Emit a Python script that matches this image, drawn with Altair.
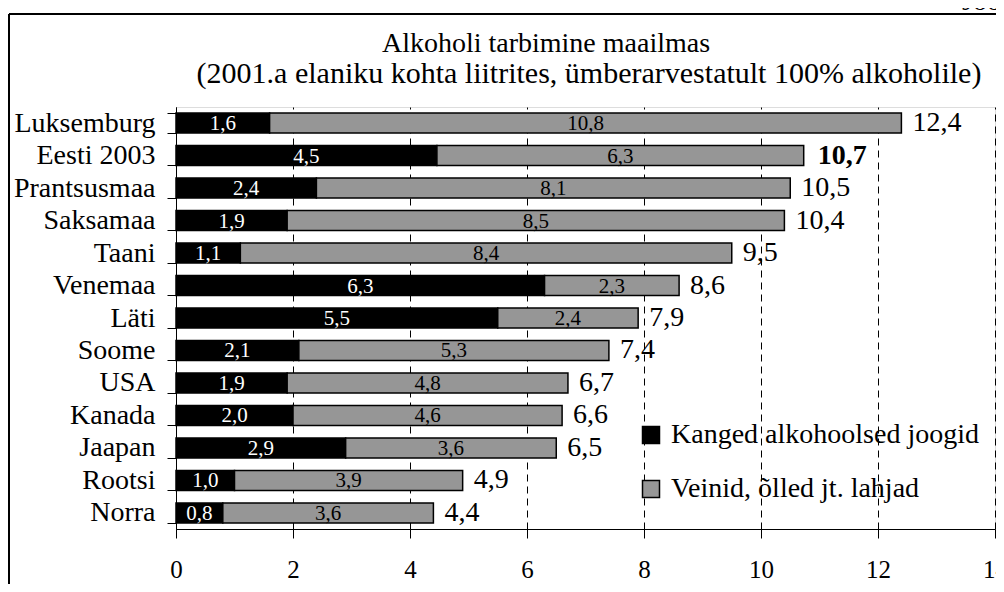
import altair as alt
import pandas as pd

countries = ["Luksemburg", "Eesti 2003", "Prantsusmaa", "Saksamaa", "Taani", "Venemaa",
             "Läti", "Soome", "USA", "Kanada", "Jaapan", "Rootsi", "Norra"]
strong = [1.6, 4.46, 2.4, 1.9, 1.1, 6.3, 5.5, 2.1, 1.9, 2.0, 2.9, 1.0, 0.8]
light = [10.8, 6.27, 8.1, 8.5, 8.4, 2.3, 2.4, 5.3, 4.8, 4.6, 3.6, 3.9, 3.6]
series = ["Kanged alkohoolsed joogid", "Veinid, õlled jt. lahjad"]
x_ticks = [0, 2, 4, 6, 8, 10, 12, 14]
title_lines = ["Alkoholi tarbimine maailmas",
               "(2001.a elaniku kohta liitrites, ümberarvestatult 100% alkoholile)"]
corner_text = "Joonis"
highlight = "Eesti 2003"

FONT = "Liberation Serif"


def fmt(v):
    return f"{v:.1f}".replace(".", ",")


rows = []
for c, s, l in zip(countries, strong, light):
    rows.append(dict(country=c, series=series[0], start=0.0, end=s, mid=s / 2, label=fmt(s)))
    rows.append(dict(country=c, series=series[1], start=s, end=s + l, mid=s + l / 2, label=fmt(l)))
seg = pd.DataFrame(rows)
tot = pd.DataFrame(dict(country=countries, total=[s + l for s, l in zip(strong, light)]))
tot["label"] = tot["total"].map(fmt)
one = pd.DataFrame({"k": [0]})

x_scale = alt.Scale(domain=[0, 14], nice=False, zero=True)
y_scale = alt.Scale(paddingInner=0.385, paddingOuter=0.185)

y_enc = alt.Y("country:N", sort=countries, title=None, scale=y_scale,
              axis=alt.Axis(tickBand="extent", tickSize=9, labelPadding=12,
                            labelFontSize=28, labelFont=FONT, labelColor="black",
                            domainColor="black", tickColor="black", labelLimit=400,
                            grid=False))

bars = alt.Chart(seg).mark_bar(stroke="black", strokeWidth=1.5).encode(
    x=alt.X("start:Q", scale=x_scale, title=None,
            axis=alt.Axis(values=x_ticks, format="d", grid=True, gridDash=[7, 5],
                          gridColor="black", gridOpacity=1, tickSize=9, labelPadding=19,
                          labelFontSize=25, labelFont=FONT, labelColor="black",
                          domainColor="black", tickColor="black", labelFlush=False,
                          labelOverlap=False)),
    x2="end:Q",
    y=y_enc,
    color=alt.Color("series:N", scale=alt.Scale(domain=series, range=["#000000", "#969696"]),
                    legend=alt.Legend(orient="none", legendX=461, legendY=314, title=None,
                                      symbolType="square", symbolSize=289,
                                      symbolStrokeColor="black", symbolStrokeWidth=1.5,
                                      labelFontSize=28, labelFont=FONT, labelColor="black",
                                      rowPadding=26, labelOffset=6, padding=0,
                                      labelLimit=500)),
)

strong_labels = alt.Chart(seg[seg["series"] == series[0]]).mark_text(
    color="white", fontSize=21, font=FONT, baseline="middle", dy=1
).encode(x=alt.X("mid:Q", scale=x_scale), y=alt.Y("country:N", sort=countries), text="label:N")

light_labels = alt.Chart(seg[seg["series"] == series[1]]).mark_text(
    color="black", fontSize=21, font=FONT, baseline="middle", dy=1
).encode(x=alt.X("mid:Q", scale=x_scale), y=alt.Y("country:N", sort=countries), text="label:N")

total_labels = alt.Chart(tot[tot["country"] != highlight]).mark_text(
    color="black", fontSize=28, font=FONT, baseline="middle", align="left", dx=11
).encode(x=alt.X("total:Q", scale=x_scale), y=alt.Y("country:N", sort=countries), text="label:N")

total_bold = alt.Chart(tot[tot["country"] == highlight]).mark_text(
    color="black", fontSize=28, font=FONT, baseline="middle", align="left", dx=14,
    fontWeight="bold"
).encode(x=alt.X("total:Q", scale=x_scale), y=alt.Y("country:N", sort=countries), text="label:N")

# decorative outer chart frame (left and top edges)
frame_left = alt.Chart(one).mark_rule(color="black", strokeWidth=2).encode(
    x=alt.value(-167), y=alt.value(-93), y2=alt.value(700))
frame_top = alt.Chart(one).mark_rule(color="black", strokeWidth=2).encode(
    x=alt.value(-167), x2=alt.value(1000), y=alt.value(-93))

title1 = alt.Chart(one).mark_text(fontSize=28, font=FONT, color="black", align="center",
                                  baseline="alphabetic").encode(
    x=alt.value(370), y=alt.value(-55), text=alt.value(title_lines[0]))
title2 = alt.Chart(one).mark_text(fontSize=30, font=FONT, color="black", align="center",
                                  baseline="alphabetic").encode(
    x=alt.value(413), y=alt.value(-24), text=alt.value(title_lines[1]))
corner = alt.Chart(one).mark_text(fontSize=28, font=FONT, color="black", align="left",
                                  baseline="alphabetic").encode(
    x=alt.value(786), y=alt.value(-97), text=alt.value(corner_text))

chart = alt.layer(
    bars, strong_labels, light_labels, total_labels, total_bold,
    frame_left, frame_top, title1, title2, corner
).properties(
    width=819, height=422,
    autosize=alt.AutoSizeParams(type="none"),
    padding={"left": 168, "top": 99, "right": 1, "bottom": 55},
).configure_view(stroke="black", strokeWidth=1).configure(background="white")

chart.save("out.html", embed_options={"renderer": "svg", "actions": False})
